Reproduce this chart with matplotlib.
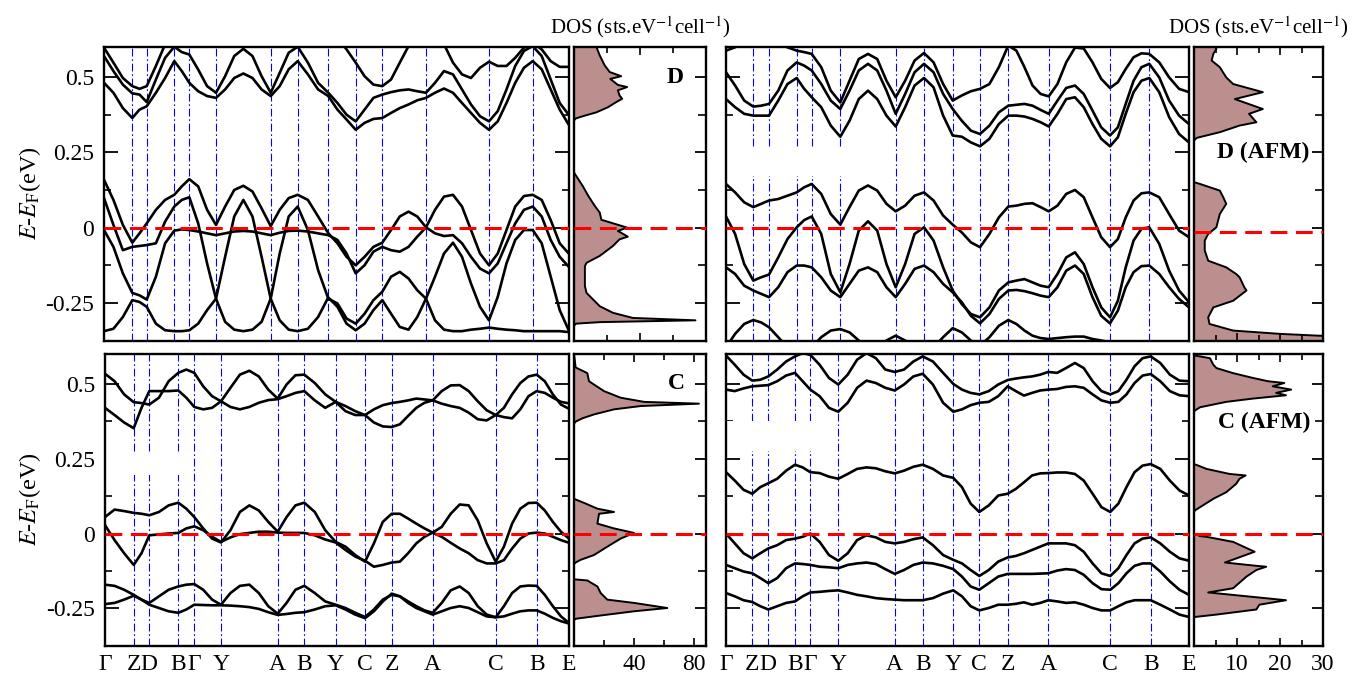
import numpy as np
import matplotlib
matplotlib.use('Agg')
import matplotlib.pyplot as plt
from matplotlib.patches import Rectangle
from matplotlib.ticker import MultipleLocator, FixedLocator

plt.rcParams['font.family'] = ['Liberation Serif', 'DejaVu Serif']
plt.rcParams['mathtext.fontset'] = 'stix'
plt.rcParams['axes.unicode_minus'] = False

# path through the Brillouin zone
kpath_labels = ['Γ', 'Z', 'D', 'B', 'Γ', 'Y', 'A', 'B', 'Y', 'C', 'Z', 'A', 'C', 'B', 'E']
kpath_ndiv = [3, 2, 3, 2, 3, 6, 3, 3, 3, 3, 5, 7, 5, 4]

# positions of the high-symmetry points along the path for each structure
kpos_D = [0, 0.283, 0.427, 0.703, 0.853, 1.120, 1.667, 1.937, 2.243, 2.517, 2.783, 3.220, 3.850, 4.287, 4.647]
kpos_Dafm = [0, 0.273, 0.430, 0.707, 0.857, 1.143, 1.697, 1.980, 2.267, 2.540, 2.823, 3.227, 3.840, 4.233, 4.630]
kpos_C = [0, 0.287, 0.443, 0.733, 0.893, 1.160, 1.727, 1.993, 2.307, 2.600, 2.867, 3.277, 3.907, 4.317, 4.640]
kpos_Cafm = [0, 0.263, 0.423, 0.690, 0.843, 1.123, 1.687, 1.967, 2.273, 2.533, 2.817, 3.223, 3.843, 4.247, 4.630]

# band energies (meV) on the k grid, structure D
D_u1 = [598, 548, 497, 470, 461, 470, 537, 609, 680, 700, 700, 680, 650, 640, 650, 680, 700, 680, 650, 640,
        650, 680, 700, 680, 660, 650, 630, 592, 548, 503, 475, 470, 492, 548, 603, 640, 660, 640, 609, 548,
        509, 497, 531, 551, 537, 537, 564, 598, 614, 592, 553, 534, 534]
D_u2 = [570, 520, 475, 446, 442, 417, 492, 564, 601, 583, 575, 525, 470, 448, 503, 570, 594, 570, 503, 448,
        514, 581, 601, 548, 481, 448, 414, 375, 353, 392, 431, 442, 450, 456, 459, 453, 448, 481, 520, 509,
        459, 409, 370, 353, 387, 459, 537, 587, 603, 570, 492, 414, 375]
D_u3 = [481, 448, 397, 364, 392, 403, 448, 497, 553, 520, 481, 453, 437, 431, 459, 497, 512, 497, 459, 437,
        470, 526, 553, 509, 459, 437, 392, 359, 325, 348, 361, 364, 381, 397, 409, 423, 431, 448, 462, 448,
        414, 381, 348, 325, 353, 414, 481, 531, 553, 526, 459, 392, 342]
D_l1 = [159, 92, 9, -50, -19, 14, 59, 92, 109, 137, 161, 137, 59, 9, 70, 125, 139, 120, 64, 5,
        59, 98, 109, 92, 37, -19, -52, -97, -125, -97, -64, -50, -8, 37, 53, 37, 1, -19, -28, -25,
        -52, -97, -136, -152, -119, -52, 14, 59, 70, 37, -41, -97, -130]
D_l2 = [98, 9, -75, -64, -61, -58, -52, 20, 70, 92, 101, 14, -119, -236, -313, -339, -344, -339, -313, -236,
        -86, 37, 70, -8, -141, -236, -252, -302, -319, -286, -241, -213, -163, -147, -169, -208, -236, -163, -86, -50,
        -97, -186, -263, -308, -230, -119, -41, -8, -8, -52, -163, -274, -341]
D_l3 = [-8, -64, -152, -217, -225, -239, -163, -52, -10, -6, -8, -13, -19, -25, -19, -13, -11, -13, -19, -25,
        -17, -11, -10, -13, -19, -25, -41, -86, -152, -125, -80, -64, -75, -80, -64, -30, 1, 59, 103, 109,
        70, -8, -86, -125, -86, -8, 70, 105, 109, 92, 25, -52, -86]
D_l4 = [-344, -336, -297, -241, -247, -263, -319, -341, -344, -344, -341, -319, -274, -236, -97, 37, 92, 37, -97, -236,
        -308, -339, -344, -336, -297, -232, -263, -319, -341, -319, -274, -241, -286, -330, -339, -297, -236, -308, -339, -344,
        -344, -339, -336, -332, -336, -339, -341, -344, -344, -344, -344, -344, -347]

# structure D, antiferromagnetic
Dafm_u1 = [588, 599, 620, 630, 630, 620, 610, 599, 588, 583, 577, 533, 455, 416, 488, 560, 577, 560, 488, 433,
           488, 555, 580, 549, 477, 422, 439, 453, 461, 477, 533, 605, 588, 533, 472, 444, 436, 477, 549, 598,
           595, 549, 494, 464, 483, 527, 566, 579, 577, 549, 499, 461, 450]
Dafm_u2 = [516, 472, 422, 402, 405, 411, 455, 522, 549, 538, 522, 477, 422, 394, 455, 522, 544, 522, 455, 378,
           444, 516, 544, 516, 444, 394, 355, 322, 311, 339, 383, 405, 408, 411, 405, 391, 378, 422, 464, 472,
           444, 389, 333, 306, 333, 411, 488, 533, 544, 499, 422, 372, 344]
Dafm_u3 = [427, 400, 378, 372, 372, 372, 422, 477, 497, 461, 433, 400, 339, 302, 355, 427, 455, 427, 372, 336,
           400, 472, 497, 466, 372, 306, 302, 283, 270, 295, 344, 372, 372, 369, 361, 350, 336, 378, 427, 433,
           400, 344, 295, 270, 300, 378, 450, 488, 497, 450, 367, 311, 283]
Dafm_l1 = [145, 117, 84, 68, 79, 90, 95, 106, 117, 134, 145, 112, 45, 10, 68, 123, 140, 123, 79, 54,
           73, 106, 117, 90, 40, 10, -16, -49, -65, -21, 34, 70, 73, 79, 81, 68, 54, 73, 112, 125,
           101, 34, -32, -65, -38, 34, 90, 114, 117, 101, 45, -10, -32]
Dafm_l2 = [37, -21, -121, -176, -165, -156, -99, -38, 1, 25, 37, -21, -154, -215, -121, -10, 21, -10, -121, -198,
           -121, -21, 1, -43, -132, -209, -254, -287, -298, -265, -209, -182, -176, -171, -182, -193, -198, -154, -99, -82,
           -121, -198, -265, -298, -243, -132, -43, -4, 1, -54, -143, -209, -248]
Dafm_l3 = [-132, -154, -193, -209, -220, -231, -198, -148, -126, -126, -132, -165, -209, -231, -187, -143, -132, -148, -198, -231,
           -187, -137, -126, -148, -187, -215, -248, -293, -318, -287, -237, -209, -207, -211, -218, -226, -231, -198, -143, -126,
           -154, -231, -293, -318, -276, -198, -148, -128, -126, -154, -198, -237, -265]
Dafm_l4 = [-398, -353, -320, -307, -315, -331, -364, -398, -409, -409, -398, -364, -342, -337, -348, -375, -398, -398, -375, -359,
           -375, -398, -409, -398, -364, -334, -348, -375, -392, -364, -326, -307, -320, -342, -359, -367, -370, -367, -364, -362,
           -362, -370, -375, -381, -386, -398, -398, -398, -398, -398, -398, -398, -398]

# structure C
C_u1 = [534, 509, 465, 439, 436, 431, 454, 509, 537, 548, 537, 492, 459, 442, 423, 415, 423, 437, 446, 449,
        459, 470, 476, 445, 420, 440, 426, 409, 396, 371, 358, 356, 365, 393, 420, 437, 445, 476, 495, 496,
        476, 442, 412, 396, 420, 465, 503, 525, 531, 509, 465, 431, 417]
C_u2 = [420, 396, 371, 352, 420, 476, 476, 476, 478, 454, 423, 415, 420, 442, 487, 531, 544, 525, 481, 451,
        498, 529, 531, 503, 465, 440, 409, 396, 396, 415, 429, 436, 440, 445, 451, 448, 445, 434, 426, 420,
        404, 382, 378, 396, 389, 385, 415, 459, 476, 470, 454, 440, 435]
C_l1 = [55, 80, 75, 69, 66, 61, 72, 94, 103, 83, 55, 17, -17, -30, 11, 72, 94, 77, 39, 6,
        55, 94, 103, 72, 11, -28, -44, -72, -94, -33, 39, 66, 66, 50, 33, 17, 3, 22, 66, 97,
        94, 44, -33, -94, -44, 33, 83, 102, 103, 77, 39, 6, -17]
C_l2 = [28, -22, -66, -105, -66, -6, -3, 0, 2, 17, 24, 11, -11, -28, -13, -2, 2, 6, 6, 3,
        2, 2, 2, -6, -20, -30, -55, -77, -91, -111, -105, -97, -94, -66, -33, -11, 3, -11, -31, -50,
        -66, -89, -100, -100, -89, -50, -17, 0, 3, 0, -11, -22, -31]
C_l3 = [-171, -175, -188, -205, -221, -232, -210, -188, -177, -171, -169, -188, -221, -238, -199, -175, -171, -199, -243, -268,
        -232, -188, -175, -199, -227, -238, -249, -265, -279, -254, -221, -205, -210, -227, -243, -257, -265, -232, -190, -177,
        -199, -243, -271, -280, -243, -199, -177, -174, -175, -205, -243, -277, -299]
C_l4 = [-236, -232, -221, -208, -221, -238, -249, -260, -265, -254, -238, -239, -240, -240, -241, -243, -246, -252, -263, -272,
        -269, -265, -263, -254, -243, -240, -254, -271, -283, -260, -227, -201, -210, -232, -249, -260, -271, -260, -249, -243,
        -249, -263, -277, -280, -277, -268, -260, -257, -257, -268, -282, -293, -301]

# structure C, antiferromagnetic
Cafm_u1 = [595, 564, 531, 511, 514, 525, 548, 575, 592, 603, 597, 564, 520, 498, 531, 581, 603, 586, 548, 540,
           548, 575, 592, 575, 537, 500, 481, 470, 465, 476, 498, 513, 518, 522, 525, 531, 540, 537, 553, 570,
           553, 509, 476, 465, 476, 514, 559, 586, 592, 570, 531, 511, 509]
Cafm_u2 = [481, 476, 485, 492, 494, 496, 509, 528, 537, 509, 481, 459, 420, 407, 437, 487, 511, 503, 487, 478,
           498, 525, 534, 498, 437, 407, 415, 429, 437, 440, 459, 492, 476, 461, 470, 478, 481, 483, 490, 492,
           487, 465, 445, 437, 440, 465, 503, 528, 533, 509, 476, 462, 459]
Cafm_l1 = [205, 177, 146, 133, 155, 168, 183, 210, 230, 221, 205, 202, 190, 183, 199, 216, 221, 218, 208, 201,
           210, 223, 230, 216, 194, 186, 155, 100, 72, 94, 127, 133, 149, 171, 194, 201, 202, 204, 204, 199,
           177, 133, 88, 72, 100, 155, 205, 227, 232, 216, 177, 144, 127]
Cafm_l2 = [0, -33, -66, -83, -66, -50, -39, -22, -17, -11, 0, -28, -72, -91, -66, -22, -6, -13, -28, -33,
           -28, -19, -13, -39, -72, -88, -100, -122, -142, -122, -94, -80, -75, -66, -55, -44, -33, -33, -33, -39,
           -61, -100, -133, -142, -116, -72, -33, -17, -13, -33, -61, -83, -91]
Cafm_l3 = [-105, -116, -127, -133, -149, -166, -149, -116, -100, -102, -105, -111, -113, -116, -105, -100, -97, -102, -119, -135,
           -122, -105, -97, -100, -108, -119, -144, -177, -188, -166, -144, -135, -135, -135, -135, -134, -133, -124, -119, -122,
           -138, -166, -186, -188, -166, -133, -108, -100, -100, -127, -160, -188, -205]
Cafm_l4 = [-199, -210, -223, -229, -243, -254, -243, -232, -227, -210, -197, -195, -192, -190, -197, -205, -210, -216, -219, -221,
           -223, -223, -223, -216, -201, -190, -210, -243, -257, -249, -238, -238, -235, -230, -238, -232, -223, -227, -232, -230,
           -238, -249, -257, -257, -243, -230, -223, -223, -223, -238, -254, -271, -279]

# densities of states (energy in eV, states/eV/cell)
dos_D_e = [0.600, 0.572, 0.539, 0.517, 0.503, 0.494, 0.474, 0.467, 0.456, 0.439, 0.428, 0.417, 0.400, 0.383, 0.372,
           0.363, 0.356, 0.183, 0.161, 0.139, 0.106, 0.072, 0.050, 0.026, 0.017, 0.000, -0.011, -0.030, -0.039, -0.061,
           -0.094, -0.117, -0.128, -0.161, -0.194, -0.217, -0.239, -0.261, -0.283, -0.300, -0.308, -0.314, -0.319, -0.326, -0.375]
dos_D = [13.6, 15.6, 18.6, 21.6, 28.6, 22.0, 26.6, 32.2, 26.6, 27.6, 29.2, 25.6, 20.6, 13.6, 6.6,
         1.2, 0, 0, 2.6, 5.2, 8.6, 12.6, 15.6, 16.6, 22.0, 32.2, 26.6, 32.6, 27.6, 23.6,
         15.6, 7.6, 6.6, 6.6, 6.6, 7.6, 11.6, 15.6, 23.6, 35.6, 73.6, 15.6, 1.2, 0, 0]

dos_Dafm_e = [0.600, 0.594, 0.577, 0.555, 0.533, 0.499, 0.477, 0.450, 0.427, 0.394, 0.378, 0.350, 0.339, 0.317, 0.298,
              0.289, 0.151, 0.145, 0.123, 0.101, 0.079, 0.045, 0.001, -0.021, -0.043, -0.076, -0.110, -0.132, -0.154, -0.165,
              -0.198, -0.209, -0.243, -0.265, -0.298, -0.320, -0.342, -0.353, -0.359, -0.362, -0.375]
dos_Dafm = [5.0, 5.2, 4.5, 4.1, 6.0, 7.5, 9.1, 16.0, 9.5, 16.0, 12.8, 14.5, 10.6, 6.0, 0.6,
            0, 0, 1.4, 6.0, 6.8, 7.5, 6.0, 5.2, 3.3, 2.5, 2.5, 3.3, 7.5, 9.8, 10.6,
            11.7, 12.2, 9.1, 4.5, 3.3, 3.6, 9.1, 20.0, 29.0, 35.0, 35.0]
ef_dos_Dafm = -0.015

dos_C_e = [0.600, 0.555, 0.536, 0.509, 0.498, 0.476, 0.454, 0.440, 0.434, 0.426, 0.415, 0.398, 0.385, 0.374, 0.367,
           0.116, 0.100, 0.083, 0.072, 0.066, 0.033, 0.017, 0.002, -0.017, -0.044, -0.072, -0.088, -0.097, -0.102, -0.153,
           -0.157, -0.177, -0.199, -0.221, -0.232, -0.249, -0.260, -0.274, -0.285, -0.290, -0.375]
dos_C = [0, 1.1, 8.9, 10.0, 13.3, 20.0, 31.0, 46.7, 83.3, 44.4, 26.7, 13.3, 5.6, 1.1, 0,
         0, 7.8, 15.6, 26.7, 16.7, 15.6, 26.7, 40.0, 31.1, 22.2, 13.3, 4.4, 1.1, 0, 0,
         8.9, 15.6, 17.8, 22.2, 40.0, 62.2, 40.0, 17.8, 1.1, 0, 0]

dos_Cafm_e = [0.600, 0.595, 0.586, 0.564, 0.553, 0.536, 0.520, 0.509, 0.503, 0.492, 0.481, 0.470, 0.462, 0.451, 0.440,
              0.422, 0.411, 0.407, 0.232, 0.227, 0.216, 0.199, 0.194, 0.183, 0.166, 0.138, 0.116, 0.088, 0.077, 0.072,
              0.000, -0.009, -0.011, -0.028, -0.061, -0.097, -0.108, -0.111, -0.122, -0.144, -0.183, -0.197, -0.223, -0.238, -0.254,
              -0.271, -0.279, -0.283, -0.375]
dos_Cafm = [0, 0.2, 3.7, 4.5, 5.2, 9.1, 13.7, 17.2, 21.0, 18.3, 22.6, 19.1, 21.4, 13.7, 7.5,
            1.4, 0.2, 0, 0, 1.0, 2.9, 8.3, 12.0, 10.6, 9.8, 7.5, 4.5, 1.4, 0.2, 0,
            0, 1.5, 2.9, 9.1, 14.1, 7.2, 14.5, 16.8, 14.5, 12.2, 9.1, 3.3, 21.4, 15.2, 14.5,
            5.2, 0.2, 0, 0]

EMIN, EMAX = -0.375, 0.6
W, H = 1365, 677
FS = 17


def kgrid(hs):
    pts = [np.linspace(hs[i], hs[i + 1], n + 1)[:-1] for i, n in enumerate(kpath_ndiv)]
    return np.concatenate(pts + [[hs[-1]]])


def px_rect(x0, y0, x1, y1):
    return [x0 / W, 1 - y1 / H, (x1 - x0) / W, (y1 - y0) / H]


def fermi(ax, e=0.0):
    ax.axhline(e, color='red', lw=2.2, ls=(0, (5.5, 2.8)), zorder=4)


def band_panel(rect, hs, bands, blank=None, xlabels=False, ylabels=True):
    ax = fig.add_axes(rect)
    for x in hs[1:-1]:
        ax.axvline(x, color='blue', lw=0.8, ls=(0, (7, 2.5, 1.5, 2.5)), zorder=1)
    # empty box that hides the guide lines inside the gap
    if blank is not None:
        x1, e0, e1 = blank
        ax.add_patch(Rectangle((0, e0), x1, e1 - e0, facecolor='white', edgecolor='none', zorder=2))
    k = kgrid(hs)
    for b in bands:
        ax.plot(k, np.array(b) / 1000.0, color='black', lw=1.9,
                solid_joinstyle='round', solid_capstyle='round', zorder=3)
    fermi(ax)
    ax.set_xlim(0, hs[-1])
    ax.set_ylim(EMIN, EMAX)
    ax.set_xticks(hs)
    ax.set_xticklabels(kpath_labels if xlabels else [])
    ax.tick_params(axis='x', length=0, pad=6, labelsize=FS)
    ax.set_yticks([-0.25, 0, 0.25, 0.5])
    ax.set_yticklabels(['-0.25', '0', '0.25', '0.5'] if ylabels else [])
    ax.yaxis.set_minor_locator(FixedLocator([-0.375, -0.125, 0.125, 0.375]))
    ax.tick_params(axis='y', which='both', direction='in', left=True, right=True, labelsize=FS, pad=7)
    ax.tick_params(axis='y', which='major', length=10, width=1.3)
    ax.tick_params(axis='y', which='minor', length=5, width=1.2)
    for s in ax.spines.values():
        s.set_linewidth(1.7)
    return ax


def dos_panel(rect, e, d, xmax, step, ef=0.0, xlabels=False):
    ax = fig.add_axes(rect)
    ax.fill_betweenx(e, 0, d, facecolor='#bc8f8f', edgecolor='none', zorder=1)
    ax.plot(d, e, color='black', lw=1.4, zorder=2)
    fermi(ax, ef)
    ax.set_xlim(0, xmax)
    ax.set_ylim(EMIN, EMAX)
    ax.xaxis.set_major_locator(MultipleLocator(2 * step))
    ax.xaxis.set_minor_locator(MultipleLocator(step))
    ax.tick_params(axis='x', which='both', direction='in', top=True, bottom=True,
                   labelbottom=xlabels, labelsize=FS, pad=6)
    ax.tick_params(axis='x', which='major', length=6, width=1.2)
    ax.tick_params(axis='x', which='minor', length=4, width=1.2)
    if xlabels:
        ax.set_xticklabels([('' if v == 0 else '%d' % v) for v in ax.get_xticks()])
    ax.set_yticks([-0.25, 0, 0.25, 0.5])
    ax.yaxis.set_minor_locator(FixedLocator([-0.375, -0.125, 0.125, 0.375]))
    ax.tick_params(axis='y', which='both', direction='in', left=False, right=True, labelleft=False)
    ax.tick_params(axis='y', which='major', length=8, width=1.3)
    ax.tick_params(axis='y', which='minor', length=6, width=1.2)
    for s in ax.spines.values():
        s.set_linewidth(1.7)
    return ax


fig = plt.figure(figsize=(W / 100, H / 100), dpi=100)

top_y = (47, 340.5)
bot_y = (354, 645.7)

band_panel(px_rect(104, top_y[0], 568.7, top_y[1]), kpos_D,
           [D_u1, D_u2, D_u3, D_l1, D_l2, D_l3, D_l4])
band_panel(px_rect(726, top_y[0], 1189, top_y[1]), kpos_Dafm,
           [Dafm_u1, Dafm_u2, Dafm_u3, Dafm_l1, Dafm_l2, Dafm_l3, Dafm_l4],
           blank=(1.40, 0.173, 0.262), ylabels=False)
band_panel(px_rect(105, bot_y[0], 569, bot_y[1]), kpos_C,
           [C_u1, C_u2, C_l1, C_l2, C_l3, C_l4],
           blank=(0.81, 0.194, 0.271), xlabels=True)
band_panel(px_rect(726, bot_y[0], 1189, bot_y[1]), kpos_Cafm,
           [Cafm_u1, Cafm_u2, Cafm_l1, Cafm_l2, Cafm_l3, Cafm_l4],
           blank=(0.98, 0.277, 0.376), xlabels=True, ylabels=False)

ax = dos_panel(px_rect(574, top_y[0], 706, top_y[1]), dos_D_e, dos_D, 80, 20)
ax.text(61, 0.5, 'D', fontsize=FS, fontweight='bold', ha='center', va='center')
ax = dos_panel(px_rect(1194, top_y[0], 1323, top_y[1]), dos_Dafm_e, dos_Dafm, 30, 5, ef=ef_dos_Dafm)
ax.text(26.8, 0.25, 'D (AFM)', fontsize=FS, fontweight='bold', ha='right', va='center')
ax = dos_panel(px_rect(574, bot_y[0], 706, bot_y[1]), dos_C_e, dos_C, 88, 20, xlabels=True)
ax.text(68.5, 0.5, 'C', fontsize=FS, fontweight='bold', ha='center', va='center')
ax = dos_panel(px_rect(1194, bot_y[0], 1323, bot_y[1]), dos_Cafm_e, dos_Cafm, 30, 5, xlabels=True)
ax.text(27.0, 0.37, 'C (AFM)', fontsize=FS, fontweight='bold', ha='right', va='center')

dos_title = r'DOS (sts.eV$^{-1}$cell$^{-1}$)'
fig.text(640 / W, 1 - 27 / H, dos_title, fontsize=15, ha='center', va='center')
fig.text(1258 / W, 1 - 27 / H, dos_title, fontsize=15, ha='center', va='center')

ylab = r'$E$-$E_{\rm F}$(eV)'
fig.text(30 / W, 1 - 193 / H, ylab, fontsize=17.5, rotation=90, ha='center', va='center')
fig.text(30 / W, 1 - 499 / H, ylab, fontsize=17.5, rotation=90, ha='center', va='center')

fig.savefig('out.png', dpi=100)
